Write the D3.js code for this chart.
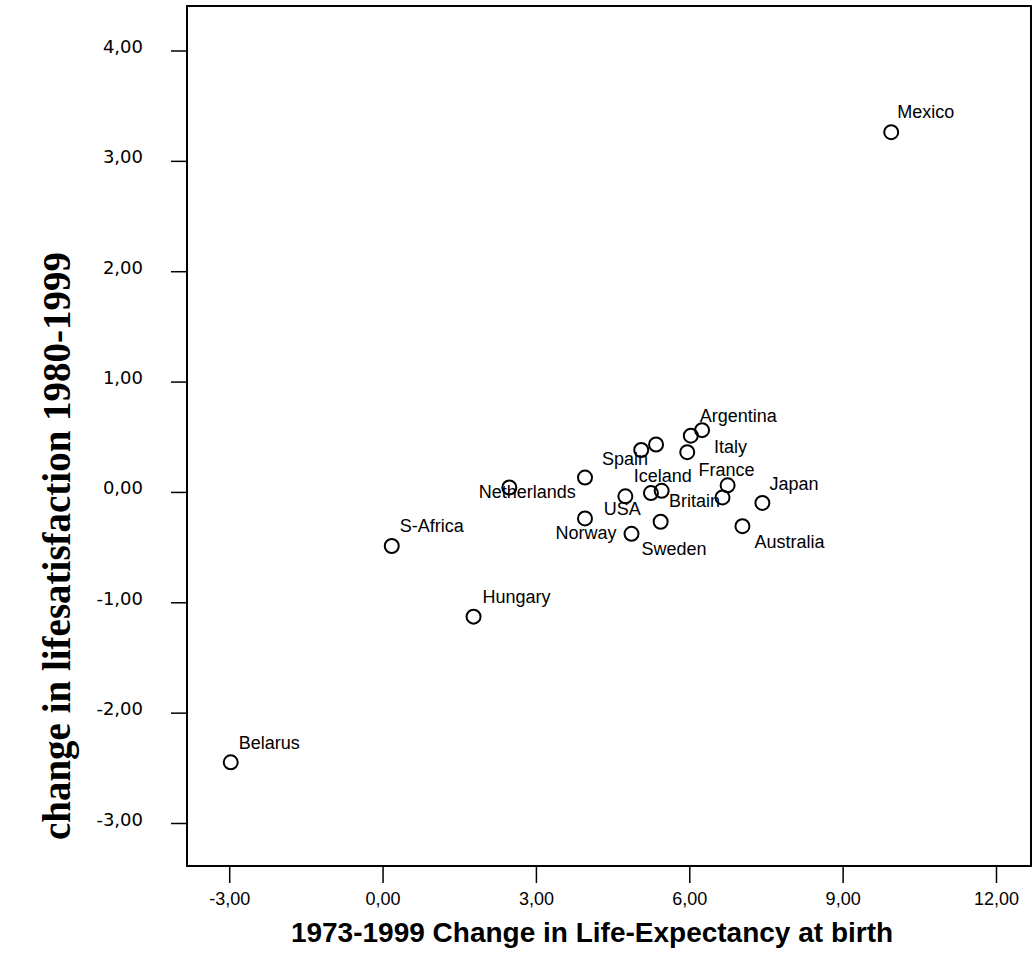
<!DOCTYPE html>
<html>
<head>
<meta charset="utf-8">
<script src="https://cdn.jsdelivr.net/npm/d3@7"></script>
<style>
  body { margin: 0; background: #fff; }
  svg { display: block; }
</style>
</head>
<body>
<div id="chart-area"></div>
<script>
// life expectancy change 1973-1999 (x) vs life satisfaction change 1980-1999 (y)
var countries = ["Mexico", "Belarus", "S-Africa", "Hungary", "Netherlands", "Spain",
    "", "", "Argentina", "Italy", "", "USA", "Britain", "Iceland", "France", "",
    "Japan", "Norway", "Sweden", "", "Australia"]
var lifeExp = [9.95, -2.97, 0.18, 1.78, 2.48, 3.96,
    5.06, 5.35, 6.03, 6.25, 5.96, 4.75, 5.25, 5.46, 6.75, 6.65,
    7.43, 3.96, 4.87, 5.44, 7.04]
var lifeSat = [3.26, -2.45, -0.49, -1.13, 0.04, 0.13,
    0.38, 0.43, 0.51, 0.56, 0.36, -0.04, -0.01, 0.01, 0.06, -0.05,
    -0.10, -0.24, -0.38, -0.27, -0.31]
var xTicks = [-3, 0, 3, 6, 9, 12]
var yTicks = [4, 3, 2, 1, 0, -1, -2, -3]

// where each label sits relative to its circle (dx, dy, anchor)
var labelPos = {
    "Mexico": [6, -14, "start"],
    "Belarus": [8, -13, "start"],
    "S-Africa": [8, -14, "start"],
    "Hungary": [9, -14, "start"],
    "Japan": [7, -13, "start"],
    "Argentina": [9, -14, "start"],
    "Italy": [12, 23, "start"],
    "Spain": [17, -13, "start"],
    "Netherlands": [18, 10, "middle"],
    "Iceland": [1, -9, "middle"],
    "France": [-1, -9, "middle"],
    "USA": [-3, 19, "middle"],
    "Norway": [1, 21, "middle"],
    "Sweden": [10, 21, "start"],
    "Australia": [12, 22, "start"],
    "Britain": [18, 14, "start"]
}

var data = countries.map((c, i) => ({name: c, x: lifeExp[i], y: lifeSat[i]}))

var cw = 1034, ch = 957
var box = {l: 187, t: 6, r: 1031, b: 866}

var svg = d3.select("#chart-area").append("svg")
    .attr("width", cw)
    .attr("height", ch)

var x = d3.scaleLinear()
    .domain([-3, 12])
    .range([229.2, 996])

var y = d3.scaleLinear()
    .domain([-3, 4])
    .range([823, 50.5])

// SPSS style: comma decimals, plain hyphen for negatives
var fmt = d => d3.format(".2f")(d).replace(".", ",").replace("\u2212", "-")

// frame
svg.append("rect")
    .attr("x", box.l)
    .attr("y", box.t)
    .attr("width", box.r - box.l)
    .attr("height", box.b - box.t)
    .attr("fill", "none")
    .attr("stroke", "#000")
    .attr("stroke-width", 2)

var bottomAxis = d3.axisBottom(x)
    .tickValues(xTicks)
    .tickSize(17)
    .tickFormat(fmt)

var gx = svg.append("g")
    .attr("class", "bottom axis")
    .attr("transform", "translate(0, " + box.b + ")")
    .call(bottomAxis)
gx.select(".domain").remove()
gx.selectAll("line").attr("stroke", "#000").attr("stroke-width", 1.5)
gx.selectAll("text")
    .attr("y", 39)
    .attr("dy", null)
    .attr("fill", "#000")
    .attr("font-family", "'Liberation Sans', Arial, sans-serif")
    .attr("font-size", "18px")

var leftAxis = d3.axisLeft(y)
    .tickValues(yTicks)
    .tickSize(16)
    .tickFormat(fmt)

var gy = svg.append("g")
    .attr("class", "left axis")
    .attr("transform", "translate(" + box.l + ", 0)")
    .call(leftAxis)
gy.select(".domain").remove()
gy.selectAll("line").attr("stroke", "#000").attr("stroke-width", 1.5)
gy.selectAll("text")
    .attr("x", -44)
    .attr("y", 2)
    .attr("dy", null)
    .attr("fill", "#000")
    .attr("font-family", "'DejaVu Sans', Verdana, sans-serif")
    .attr("font-size", "18px")

// axis titles
svg.append("text")
    .attr("class", "x axis-label")
    .attr("x", 592)
    .attr("y", 942)
    .attr("text-anchor", "middle")
    .attr("font-family", "'Liberation Sans', Arial, sans-serif")
    .attr("font-weight", "bold")
    .attr("font-size", "28px")
    .text("1973-1999 Change in Life-Expectancy at birth")

svg.append("text")
    .attr("class", "y axis-label")
    .attr("transform", "translate(70, 546) rotate(-90)")
    .attr("text-anchor", "middle")
    .attr("font-family", "'Liberation Serif', 'Times New Roman', serif")
    .attr("font-weight", "bold")
    .attr("font-size", "39px")
    .text("change in lifesatisfaction 1980-1999")

// points
svg.append("g").selectAll("circle")
    .data(data).enter().append("circle")
        .attr("cx", d => x(d.x))
        .attr("cy", d => y(d.y))
        .attr("r", 7)
        .attr("fill", "none")
        .attr("stroke", "#000")
        .attr("stroke-width", 2)

svg.append("g").selectAll("text")
    .data(data.filter(d => d.name !== "")).enter().append("text")
        .attr("x", d => x(d.x) + labelPos[d.name][0])
        .attr("y", d => y(d.y) + labelPos[d.name][1])
        .attr("text-anchor", d => labelPos[d.name][2])
        .attr("font-family", "'Liberation Sans', Arial, sans-serif")
        .attr("font-size", "18px")
        .attr("fill", "#000")
        .text(d => d.name)
</script>
</body>
</html>
